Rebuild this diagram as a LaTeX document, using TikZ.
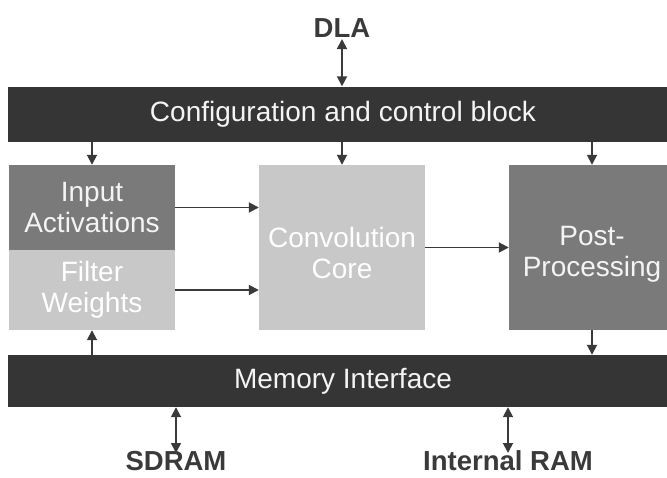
\documentclass[tikz,border=0pt]{standalone}
\usepackage{fontspec}
\setmainfont{Liberation Sans}
\usetikzlibrary{arrows.meta}
\definecolor{barc}{HTML}{353535}
\definecolor{darkbox}{HTML}{7A7A7A}
\definecolor{lightbox}{HTML}{C8C8C8}
\definecolor{linec}{HTML}{3A3A3A}
\definecolor{txtw}{HTML}{F4F4F4}
\begin{document}
\begin{tikzpicture}[x=1pt,y=-1pt,
  box/.style={draw=none,inner sep=0pt,text=txtw,align=center,
    font=\fontsize{28}{30.5}\selectfont},
  bar/.style={box,fill=barc},
  dbox/.style={box,fill=darkbox},
  lbox/.style={box,fill=lightbox,text=white},
  boxtext/.style={inner sep=0pt,anchor=north,align=center,
    font=\fontsize{28}{31}\selectfont},
  ext/.style={inner sep=0pt,anchor=base,text=linec,font=\fontsize{27.5}{30}\selectfont\bfseries},
  arr/.style={draw=linec,line width=1.8pt,-{Triangle[length=10pt,width=10pt]}},
  darr/.style={draw=linec,line width=1.8pt,{Triangle[length=10pt,width=10pt]}-{Triangle[length=10pt,width=10pt]}}]
\useasboundingbox (0,0) rectangle (667,477);
\begin{scope}
\clip (0,0) rectangle (667,477);
\node[bar,minimum width=670,minimum height=55] (cfg) at (343,114) {Configuration and control block};
\node[bar,minimum width=670,minimum height=52] (mem) at (343,381) {Memory Interface};
\node[dbox,minimum width=166,minimum height=85] (ia) at (92,207.5) {Input\\Activations};
\node[lbox,minimum width=166,minimum height=80] (fw) at (92,290) {Filter\\Weights};
\node[lbox,minimum width=166,minimum height=165] (cc) at (342,247.5) {};
\node[dbox,minimum width=166,minimum height=165] (pp) at (592,247.5) {};
\node[boxtext,text=white] (cct) at (342,227) {Convolution\\Core};
\node[boxtext,text=txtw] (ppt) at (592,226.5) {Post-\\Processing};
\end{scope}
\node[ext] (dla) at (342,37) {DLA};
\node[ext] (sd) at (176,470.5) {SDRAM};
\node[ext] (ir) at (508,470.5) {Internal RAM};
\coordinate (d1) at (342,39);
\coordinate (s1) at (176,453);
\coordinate (r1) at (508,453);
\draw[darr] (d1) -- (d1 |- cfg.north);
\draw[arr] (ia.north |- cfg.south) -- (ia.north);
\draw[arr] (cc.north |- cfg.south) -- (cc.north);
\draw[arr] (pp.north |- cfg.south) -- (pp.north);
\draw[arr] (ia.east) -- (ia.east -| cc.west);
\draw[arr] (fw.east) -- (fw.east -| cc.west);
\draw[arr] (cc.east) -- (cc.east -| pp.west);
\draw[arr] (fw.south |- mem.north) -- (fw.south);
\draw[arr] (pp.south) -- (pp.south |- mem.north);
\draw[darr] (s1 |- mem.south) -- (s1);
\draw[darr] (r1 |- mem.south) -- (r1);
\end{tikzpicture}
\end{document}
